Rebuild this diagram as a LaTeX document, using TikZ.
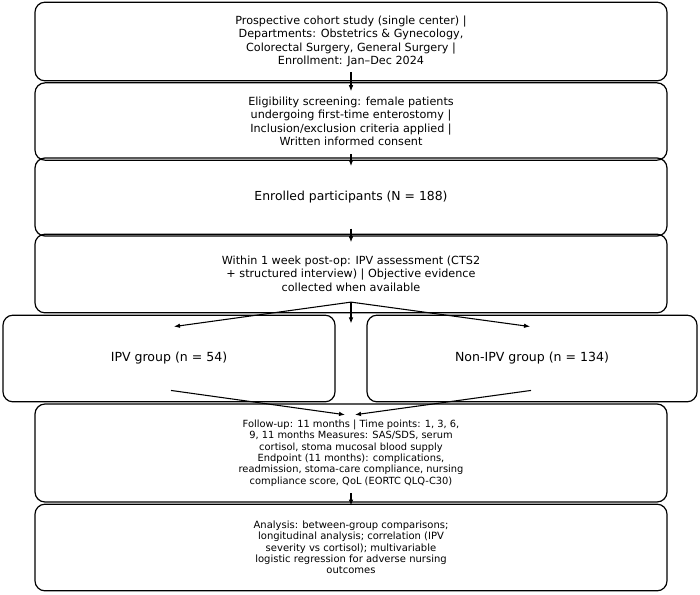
\documentclass[tikz,border=0pt]{standalone}
\usepackage{fontspec}
\setmainfont{DejaVu Sans}
\usetikzlibrary{arrows.meta}

\begin{document}
\begin{tikzpicture}[x=0.75pt, y=-0.75pt, thick,
  box/.style = {draw, rounded corners=7.5pt, line width=0.9pt, align=center, inner sep=0pt},
  arr/.style = {-{Latex[length=4.5pt,width=3.5pt]}, line width=0.8pt}]
  \useasboundingbox (0,0) rectangle (700,594);
  \node[box, minimum width=474pt, minimum height=59pt, font=\fontsize{8.4}{10.1}\selectfont] (1) at (351,41.5)
    {Prospective cohort study (single center) |\\ Departments: Obstetrics \& Gynecology,\\ Colorectal Surgery, General Surgery |\\ Enrollment: Jan--Dec 2024};
  \node[box, minimum width=474pt, minimum height=58pt, font=\fontsize{8.4}{10.1}\selectfont] (2) at (351,121.5)
    {Eligibility screening: female patients\\ undergoing first-time enterostomy |\\ Inclusion/exclusion criteria applied |\\ Written informed consent};
  \node[box, minimum width=474pt, minimum height=58.5pt, font=\fontsize{9.3}{11}\selectfont] (3) at (351,197)
    {Enrolled participants (N = 188)};
  \node[box, minimum width=474pt, minimum height=59pt, font=\fontsize{8.4}{10.1}\selectfont] (4) at (351,273.5)
    {Within 1 week post-op: IPV assessment (CTS2\\ + structured interview) | Objective evidence\\ collected when available};
  \node[box, minimum width=249pt, minimum height=65pt, font=\fontsize{9.4}{11}\selectfont] (5) at (169,358.5)
    {IPV group (n = 54)};
  \node[box, minimum width=247.5pt, minimum height=65pt, font=\fontsize{9.4}{11}\selectfont] (6) at (532,358.5)
    {Non-IPV group (n = 134)};
  \node[box, minimum width=474pt, minimum height=73.5pt, font=\fontsize{7.4}{8.5}\selectfont] (7) at (351,453)
    {Follow-up: 11 months | Time points: 1, 3, 6,\\ 9, 11 months Measures: SAS/SDS, serum\\ cortisol, stoma mucosal blood supply\\ Endpoint (11 months): complications,\\ readmission, stoma-care compliance, nursing\\ compliance score, QoL (EORTC QLQ-C30)};
  \node[box, minimum width=474pt, minimum height=65pt, font=\fontsize{7.5}{8.5}\selectfont] (8) at (351,547.5)
    {Analysis: between-group comparisons;\\ longitudinal analysis; correlation (IPV\\ severity vs cortisol); multivariable\\ logistic regression for adverse nursing\\ outcomes};
  \draw[arr] ([yshift=6.75pt]1.south) to ([yshift=-6.75pt]2.north);
  \draw[arr] ([yshift=5pt]2.south) to ([yshift=-6.5pt]3.north);
  \draw[arr] ([yshift=6pt]3.south) to ([yshift=-6.5pt]4.north);
  \draw[arr] ([yshift=8.5pt]4.south) to ([xshift=3.75pt,yshift=-9pt]5.north);
  \draw[arr] ([yshift=8.5pt]4.south) to ([xshift=-1.5pt,yshift=-9pt]6.north);
  \draw[arr] ([yshift=8.5pt]4.south) to ([yshift=-7.5pt]4.south);
  \draw[arr] ([xshift=1.5pt,yshift=9pt]5.south) to ([xshift=-4.5pt,yshift=-8.5pt]7.north);
  \draw[arr] ([xshift=-0.75pt,yshift=9pt]6.south) to ([xshift=3pt,yshift=-8.5pt]7.north);
  \draw[arr] ([yshift=7pt]7.south) to ([yshift=-1.5pt]8.north);
\end{tikzpicture}
\end{document}
